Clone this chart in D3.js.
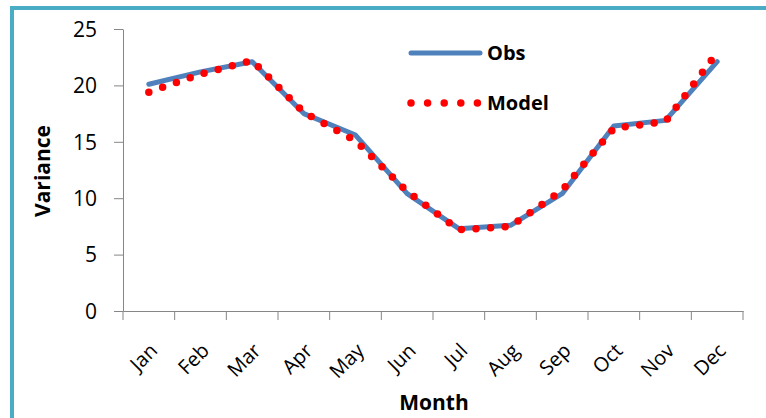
<!DOCTYPE html>
<html lang="en">
<head>
<meta charset="UTF-8">
<script src="https://cdn.jsdelivr.net/npm/d3@7"></script>
<style>
    body { margin: 0; background: #fff; }
    text { font-family: "Open Sans", sans-serif; fill: #000; }
    .axis path, .axis line { stroke: #868686; }
</style>
</head>
<body>
<div id="chart"></div>
<script>
    var months = ["Jan", "Feb", "Mar", "Apr", "May", "Jun", "Jul", "Aug", "Sep", "Oct", "Nov", "Dec"];
    var obs = [20.1, 21.2, 22.1, 17.5, 15.6, 10.4, 7.3, 7.6, 10.4, 16.4, 16.9, 22.1];
    var model = [19.4, 21.0, 22.2, 17.6, 15.1, 10.6, 7.2, 7.5, 10.7, 16.2, 16.8, 22.9];
    var yTicks = [0, 5, 10, 15, 20, 25];

    var W = 766, H = 418;
    var plotLeft = 123, plotRight = 743, plotTop = 29, plotBottom = 311;

    var svg = d3.select("#chart").append("svg")
        .attr("width", W)
        .attr("height", H);

    // frame
    svg.append("rect")
        .attr("x", 12).attr("y", 8)
        .attr("width", 900).attr("height", 600)
        .attr("fill", "none")
        .attr("stroke", "#4BACC6")
        .attr("stroke-width", 4);

    var x = d3.scaleBand().domain(months).range([plotLeft, plotRight]);
    var y = d3.scaleLinear().domain([0, 25]).range([plotBottom, plotTop]);

    // y axis
    var yAxis = svg.append("g")
        .attr("class", "axis")
        .attr("transform", "translate(" + plotLeft + ",0)")
        .call(d3.axisLeft(y).tickValues(yTicks).tickSize(9).tickSizeOuter(0).tickPadding(17));
    yAxis.selectAll("text").style("font-size", "21px").attr("dy", "0.35em");

    // x axis, ticks between categories
    var xAxis = svg.append("g")
        .attr("class", "axis")
        .attr("transform", "translate(0," + plotBottom + ")")
        .call(d3.axisBottom(x).tickSize(0).tickSizeOuter(0));
    xAxis.selectAll(".tick line").remove();
    xAxis.selectAll(".bound")
        .data(d3.range(months.length + 1))
        .enter().append("line")
        .attr("x1", function (i) { return plotLeft + i * x.step(); })
        .attr("x2", function (i) { return plotLeft + i * x.step(); })
        .attr("y1", 0).attr("y2", 9)
        .attr("stroke", "#868686");
    xAxis.selectAll(".tick text")
        .style("font-size", "20px")
        .attr("text-anchor", "end")
        .attr("dy", "0.35em")
        .attr("transform", "translate(5,36) rotate(-45)")
        .attr("y", 0).attr("x", 0);

    // axis titles
    svg.append("text")
        .attr("transform", "translate(50,171) rotate(-90)")
        .attr("text-anchor", "middle")
        .style("font-size", "21px").style("font-weight", "bold")
        .text("Variance");
    svg.append("text")
        .attr("x", 434).attr("y", 410)
        .attr("text-anchor", "middle")
        .style("font-size", "21px").style("font-weight", "bold")
        .text("Month");

    var line = function (vals) {
        return d3.line()
            .x(function (d, i) { return x(months[i]) + x.bandwidth() / 2; })
            .y(function (d) { return y(d); })(vals);
    };

    svg.append("path")
        .attr("d", line(obs))
        .attr("fill", "none")
        .attr("stroke", "#4F81BD")
        .attr("stroke-width", 5)
        .attr("stroke-linecap", "round")
        .attr("stroke-linejoin", "round");

    svg.append("path")
        .attr("d", line(model))
        .attr("fill", "none")
        .attr("stroke", "#FF0000")
        .attr("stroke-width", 7.5)
        .attr("stroke-linecap", "round")
        .attr("stroke-dasharray", "0,14.6");

    // legend
    svg.append("line")
        .attr("x1", 411).attr("x2", 480).attr("y1", 53).attr("y2", 53)
        .attr("stroke", "#4F81BD").attr("stroke-width", 5)
        .attr("stroke-linecap", "round");
    svg.append("text")
        .attr("x", 487).attr("y", 60)
        .style("font-size", "20px").style("font-weight", "bold")
        .text("Obs");
    svg.append("line")
        .attr("x1", 411).attr("x2", 478).attr("y1", 103).attr("y2", 103)
        .attr("stroke", "#FF0000").attr("stroke-width", 7.5)
        .attr("stroke-linecap", "round")
        .attr("stroke-dasharray", "0,16.6");
    svg.append("text")
        .attr("x", 487).attr("y", 110)
        .style("font-size", "20px").style("font-weight", "bold")
        .text("Model");
</script>
</body>
</html>
